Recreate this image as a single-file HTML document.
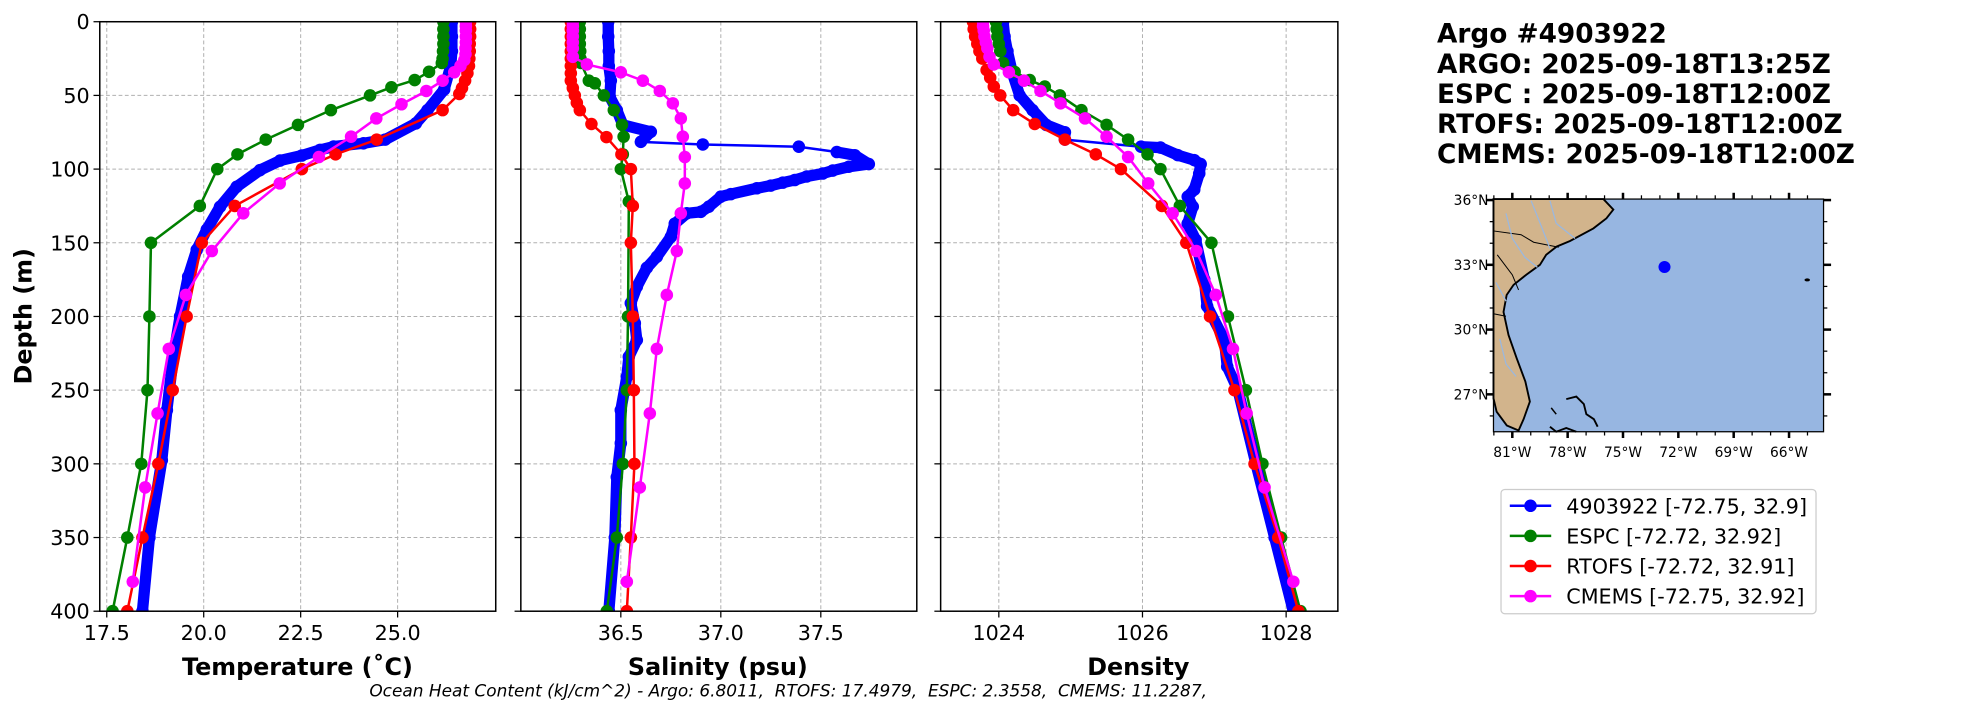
<!DOCTYPE html>
<html><head><meta charset="utf-8">
<style>
html,body{margin:0;padding:0;background:#fff;}
svg{display:block;font-family:"DejaVu Sans","Liberation Sans",sans-serif;}
</style></head>
<body>
<svg id="fig" width="1967" height="712" viewBox="0 0 1567.3 567.3" xmlns="http://www.w3.org/2000/svg">
<rect width="1567.3" height="567.3" fill="#fff"/>
<g id="panels"></g>
<g id="map"></g>
<g id="legend"></g>
<g font-weight="bold" font-size="21" fill="#000">
<text x="1145" y="34">Argo #4903922</text>
<text x="1145" y="58">ARGO: 2025-09-18T13:25Z</text>
<text x="1145" y="82">ESPC : 2025-09-18T12:00Z</text>
<text x="1145" y="106">RTOFS: 2025-09-18T12:00Z</text>
<text x="1145" y="130">CMEMS: 2025-09-18T12:00Z</text>
</g>
<text x="628" y="555" text-anchor="middle" font-size="13.5" font-style="italic" style="white-space:pre">Ocean Heat Content (kJ/cm^2) - Argo: 6.8011,  RTOFS: 17.4979,  ESPC: 2.3558,  CMEMS: 11.2287,</text>
</svg>
<script>
// ---------- data ----------
const depthTicks = [0,50,100,150,200,250,300,350,400];
const tempTicks = [17.5,20.0,22.5,25.0];
const tempTickLabels = ["17.5","20.0","22.5","25.0"];
const salTicks = [36.5,37.0,37.5];
const salTickLabels = ["36.5","37.0","37.5"];
const denTicks = [1024,1026,1028];
const denTickLabels = ["1024","1026","1028"];

const seriesNames = ["4903922 [-72.75, 32.9]","ESPC [-72.72, 32.92]","RTOFS [-72.72, 32.91]","CMEMS [-72.75, 32.92]"];

const argoTempDepth = [0,10,20,30,46,60,69,80,82.5,84.7,87,90.8,94.2,100.7,112,125.6,141,154.8,173,200,227,263.6,297.6,350,400];
const argoTemp =      [26.4,26.4,26.4,26.37,26.2,25.77,25.47,24.68,24.12,23.35,23.0,22.53,21.97,21.45,20.85,20.42,20.08,19.82,19.6,19.39,19.22,19.05,18.92,18.6,18.42];
const argoSalDepth = [0,10,20,30,40,51,60,70,74.7,81.5,83.3,84.8,88.4,90.6,96.6,98.4,101,103,105,107.4,109.2,111.2,113,117,118.7,125.5,129,130,137,146,159.5,167,179.8,191,204.6,216,227.4,241,263.6,286,309,350,400];
const argoSal = [36.437,36.437,36.44,36.44,36.45,36.445,36.48,36.51,36.65,36.6,36.91,37.39,37.58,37.67,37.74,37.64,37.56,37.51,37.43,37.37,37.31,37.25,37.18,37.05,37.0,36.94,36.9,36.83,36.77,36.75,36.68,36.63,36.58,36.55,36.57,36.58,36.54,36.53,36.5,36.5,36.48,36.47,36.44];
const argoDenDepth = [0,10,20,35,50,60,70,75,80,84.8,85.4,90.5,93.9,96.6,103,114,118.7,125.5,137,148,175,193,216,234,250,300,350,400];
const argoDen = [1024.06,1024.08,1024.12,1024.19,1024.29,1024.47,1024.66,1024.92,1024.92,1025.98,1026.25,1026.49,1026.72,1026.81,1026.79,1026.72,1026.63,1026.7,1026.63,1026.74,1026.86,1026.9,1027.14,1027.18,1027.33,1027.58,1027.84,1028.1];

const espcTempDepth = [0,5,10,15,20,25,28,34,39.6,44.5,50,60,70,80,90,100,125,150,200,250,300,350,400];
const espcTemp = [26.18,26.18,26.18,26.18,26.17,26.16,26.14,25.81,25.44,24.84,24.29,23.28,22.43,21.6,20.87,20.35,19.9,18.64,18.6,18.55,18.39,18.03,17.65];
const espcSalDepth = [0,5,10,15,20,25,28,40,41.8,50,60,70,78,90,100,122,200,250,300,350,400];
const espcSal = [36.295,36.295,36.295,36.295,36.297,36.298,36.3,36.34,36.37,36.415,36.465,36.506,36.514,36.51,36.5,36.54,36.536,36.53,36.51,36.48,36.43];
const espcDenDepth = [0,5,10,15,20,28,34,39.6,44,50,60,70,80,90,100,125,150,200,250,300,350,400];
const espcDen = [1023.96,1023.97,1023.98,1024.0,1024.02,1024.06,1024.22,1024.43,1024.64,1024.85,1025.15,1025.5,1025.8,1026.07,1026.25,1026.52,1026.96,1027.19,1027.44,1027.67,1027.93,1028.2];

const rtofsTempDepth = [0,5,10,15,20,25,30,35,40,45,49,60,80,90,100,125,150,200,250,300,350,400];
const rtofsTemp = [26.87,26.87,26.87,26.86,26.86,26.85,26.84,26.8,26.74,26.66,26.59,26.16,24.46,23.4,22.53,20.8,19.95,19.56,19.2,18.83,18.42,18.03];
const rtofsSalDepth = [0,5,10,15,20,25,30,35,40,45,50,55,60,69.4,78.3,90,100,125,150,200,250,300,350,400];
const rtofsSal = [36.25,36.25,36.25,36.25,36.25,36.25,36.25,36.25,36.25,36.26,36.27,36.28,36.295,36.353,36.428,36.503,36.55,36.56,36.55,36.56,36.565,36.568,36.55,36.53];
const rtofsDenDepth = [0,5,10,15,20,25,32.8,38,44,50,60,69.4,80,90,100,125,150,200,250,300,350,400];
const rtofsDen = [1023.64,1023.65,1023.67,1023.7,1023.73,1023.77,1023.83,1023.88,1023.93,1024.02,1024.2,1024.5,1024.92,1025.35,1025.7,1026.27,1026.61,1026.94,1027.28,1027.56,1027.89,1028.17];

const cmemsTempDepth = [0,3,6,10,14,18,22,26,30,34.3,40,47,56,65.6,78,91.8,109.7,130,155.6,185.4,222,265.8,316,380];
const cmemsTemp = [26.76,26.76,26.76,26.76,26.76,26.75,26.75,26.72,26.62,26.46,26.16,25.74,25.1,24.45,23.8,22.97,21.96,21.02,20.21,19.54,19.1,18.81,18.49,18.17];
const cmemsSalDepth = [0,3,6,10,14,18,23.8,29,34.3,40,47,55.4,65.6,78,91.8,109.7,130,155.6,185.4,222,265.8,316,380];
const cmemsSal = [36.26,36.26,36.26,36.26,36.26,36.26,36.26,36.33,36.5,36.61,36.695,36.76,36.8,36.81,36.82,36.82,36.8,36.78,36.73,36.68,36.645,36.595,36.53];
const cmemsDenDepth = [0,3,6,10,14,18,23.8,29,34.3,40,47,55.4,65.6,78,91.8,109.7,130,155.6,185.4,222,265.8,316,380];
const cmemsDen = [1023.78,1023.78,1023.79,1023.8,1023.82,1023.84,1023.87,1023.93,1024.14,1024.35,1024.58,1024.86,1025.2,1025.5,1025.8,1026.08,1026.42,1026.75,1027.02,1027.26,1027.45,1027.7,1028.1];

const colors = ["#0000ff","#008000","#ff0000","#ff00ff"];

// ---------- axes ----------
const NS = "http://www.w3.org/2000/svg";
function mk(tag, attrs, parent){
  const e = document.createElementNS(NS, tag);
  for (const k in attrs) e.setAttribute(k, attrs[k]);
  if (parent) parent.appendChild(e);
  return e;
}
const yTop = 17.3, yBot = 487;
function yScale(d){ return yTop + (d/400)*(yBot-yTop); }

const panelsG = document.getElementById('panels');
const panels = [
  {name:"temperature", x0:79.5, x1:395, v0:17.32, v1:27.53, ticks:tempTicks, labels:tempTickLabels, title:"Temperature (\u02daC)", tcx:237,
   series:[[argoTempDepth,argoTemp],[espcTempDepth,espcTemp],[rtofsTempDepth,rtofsTemp],[cmemsTempDepth,cmemsTemp]], ylabels:true},
  {name:"salinity", x0:415, x1:730.5, v0:36.0, v1:37.98, ticks:salTicks, labels:salTickLabels, title:"Salinity (psu)", tcx:572,
   series:[[argoSalDepth,argoSal],[espcSalDepth,espcSal],[rtofsSalDepth,rtofsSal],[cmemsSalDepth,cmemsSal]], ylabels:false},
  {name:"density", x0:749.5, x1:1066, v0:1023.19, v1:1028.72, ticks:denTicks, labels:denTickLabels, title:"Density", tcx:907,
   series:[[argoDenDepth,argoDen],[espcDenDepth,espcDen],[rtofsDenDepth,rtofsDen],[cmemsDenDepth,cmemsDen]], ylabels:false}
];

panels.forEach(p=>{
  const xs = v => p.x0 + (v-p.v0)/(p.v1-p.v0)*(p.x1-p.x0);
  const g = mk('g',{}, panelsG);
  
  
  depthTicks.forEach(d=>{
    const gl = mk('line',{x1:p.x0,x2:p.x1,y1:yScale(d),y2:yScale(d),stroke:"#b0b0b0","stroke-width":0.8,"stroke-dasharray":"3,2"},g);
    
    
  });
  p.ticks.forEach((t,i)=>{
    const x = xs(t);
    const gl = mk('line',{x1:x,x2:x,y1:yTop,y2:yBot,stroke:"#b0b0b0","stroke-width":0.8,"stroke-dasharray":"3,2"},g);
    
    
    const tk = mk('line',{x1:x,x2:x,y1:yBot,y2:yBot+5,stroke:"#000","stroke-width":1},g);
    
    
    const tl = mk('text',{x:x,y:yBot+23,"text-anchor":"middle","font-size":16.5},g);
    tl.textContent = p.labels[i];
    
    
  });
  depthTicks.forEach(d=>{
    const tk = mk('line',{x1:p.x0-5,x2:p.x0,y1:yScale(d),y2:yScale(d),stroke:"#000","stroke-width":1},g);
    
    
    if (p.ylabels){
      const tl = mk('text',{x:p.x0-8,y:yScale(d)+6,"text-anchor":"end","font-size":16.5},g);
      tl.textContent = String(d);
      
      
    }
  });
  const cid = 'clip-'+p.name;
  const cp = mk('clipPath',{id:cid},g);
  mk('rect',{x:p.x0,y:yTop,width:p.x1-p.x0,height:yBot-yTop},cp);
  const sg = mk('g',{"clip-path":"url(#"+cid+")"},g);
  p.series.forEach((s,si)=>{
    const [dep,val] = s;
    const pts = dep.map((d,i)=>[xs(val[i]), yScale(d)]);
    const lg = mk('g',{},sg);
    
    
    if (si===0){
      for (let i=1;i<pts.length;i++){
        const dx = pts[i][0]-pts[i-1][0], dy = pts[i][1]-pts[i-1][1];
        const far = Math.hypot(dx,dy) > 30 && Math.abs(dy) < 8;
        mk('line',{x1:pts[i-1][0],y1:pts[i-1][1],x2:pts[i][0],y2:pts[i][1],stroke:colors[0],"stroke-width":far?2:9,"stroke-linecap":"round"},lg);
      }
    } else {
      mk('polyline',{points:pts.map(q=>q.join(',')).join(' '),fill:"none",stroke:colors[si],"stroke-width":2},lg);
    }
    pts.forEach(q=>{
      const c = mk('circle',{cx:q[0],cy:q[1],r:5,fill:colors[si]},lg);
      
      
    });
  });
  const fr = mk('rect',{x:p.x0,y:yTop,width:p.x1-p.x0,height:yBot-yTop,fill:"none",stroke:"#000","stroke-width":1.2},g);
  
  
  const at = mk('text',{x:p.tcx,y:538,"text-anchor":"middle","font-size":19,"font-weight":"bold"},g);
  at.textContent = p.title;
  
  
});
const yt = mk('text',{x:0,y:0,"text-anchor":"middle","font-size":19,"font-weight":"bold",transform:"translate(25,252) rotate(-90)"},panelsG);
yt.textContent = "Depth (m)";



// ---------- map ----------
const mapLon = [-72.75];
const mapLat = [32.9];
const latTicks = [36,33,30,27];
const lonTicks = [-81,-78,-75,-72,-69,-66];
const mapG = document.getElementById('map');
const mx0=1190, mx1=1453, my0=158.6, my1=344;
function lonX(lon){ return 1205 + (lon+81)*14.7; }
function latY(lat){ return 211 - (lat-33)*17.2; }
mk('rect',{x:mx0,y:my0,width:mx1-mx0,height:my1-my0,fill:"#97b6e1"},mapG);
const land = mk('polygon',{points:"1190,158.6 1277.6,158.6 1285.5,167 1280,174 1269.6,182 1251,192 1240.3,196.5 1232,203 1227,211 1216,219 1206,227 1200.5,235 1198,248.6 1202,267 1208.5,285.5 1215.4,304 1219,320 1214,334 1210,343 1200.6,339 1192.5,328 1190,317.4",fill:"#d2b48c",stroke:"#000","stroke-width":1.5},mapG);


mk('polyline',{points:"1190,184 1212,187 1222,193 1242,197",fill:"none",stroke:"#000","stroke-width":0.8},mapG);
mk('polyline',{points:"1193,203 1205,219 1210,231",fill:"none",stroke:"#000","stroke-width":0.8},mapG);
mk('polyline',{points:"1190,250 1200,252",fill:"none",stroke:"#000","stroke-width":0.8},mapG);
mk('polyline',{points:"1200,170 1205,190 1215,205 1225,213",fill:"none",stroke:"#9ab8e0","stroke-width":1},mapG);
mk('polyline',{points:"1220,160 1228,180 1235,198",fill:"none",stroke:"#9ab8e0","stroke-width":1},mapG);
mk('polyline',{points:"1235,160 1240,178 1255,190",fill:"none",stroke:"#9ab8e0","stroke-width":1},mapG);
mk('polyline',{points:"1192,225 1200,240",fill:"none",stroke:"#9ab8e0","stroke-width":1},mapG);
mk('polyline',{points:"1195,270 1200,290 1208,300",fill:"none",stroke:"#9ab8e0","stroke-width":1},mapG);
mk('polyline',{points:"1248,318 1256,316 1262,322 1264,330 1270,334 1273,340",fill:"none",stroke:"#000","stroke-width":1.5},mapG);
mk('polyline',{points:"1236,325 1240,330",fill:"none",stroke:"#000","stroke-width":1.2},mapG);
mk('polyline',{points:"1235,340 1240,344 1248,341 1256,344",fill:"none",stroke:"#000","stroke-width":1.5},mapG);
mk('ellipse',{cx:1440,cy:223,rx:2.2,ry:1.2,fill:"#000"},mapG);
mk('rect',{x:mx0,y:my0,width:mx1-mx0,height:my1-my0,fill:"none",stroke:"#000","stroke-width":1},mapG);
latTicks.forEach(t=>{
  const y = latY(t);
  mk('line',{x1:mx0-6,x2:mx0,y1:y,y2:y,stroke:"#000","stroke-width":2},mapG);
  mk('line',{x1:mx1,x2:mx1+6,y1:y,y2:y,stroke:"#000","stroke-width":2},mapG);
  const tl = mk('text',{x:mx0-4,y:y+4,"text-anchor":"end","font-size":11},mapG);
  tl.textContent = t+"\u00b0N";
  
  
});
lonTicks.forEach(t=>{
  const x = lonX(t);
  mk('line',{x1:x,x2:x,y1:my0-5,y2:my0,stroke:"#000","stroke-width":2},mapG);
  mk('line',{x1:x,x2:x,y1:my1,y2:my1+5,stroke:"#000","stroke-width":2},mapG);
  const tl = mk('text',{x:x,y:my1+20,"text-anchor":"middle","font-size":11},mapG);
  tl.textContent = (-t)+"\u00b0W";
  
  
});
for (let lon=-82;lon<=-64;lon++){
  if (lon%3===0) continue;
  const x = lonX(lon);
  if (x<mx0||x>mx1) continue;
  mk('line',{x1:x,x2:x,y1:my0-3,y2:my0,stroke:"#000","stroke-width":1},mapG);
  mk('line',{x1:x,x2:x,y1:my1,y2:my1+3,stroke:"#000","stroke-width":1},mapG);
}
for (let lat=26;lat<=36;lat++){
  if (lat%3===0) continue;
  const y = latY(lat);
  if (y<my0||y>my1) continue;
  mk('line',{x1:mx0-3,x2:mx0,y1:y,y2:y,stroke:"#000","stroke-width":1},mapG);
  mk('line',{x1:mx1,x2:mx1+3,y1:y,y2:y,stroke:"#000","stroke-width":1},mapG);
}
mapLon.forEach((lon,i)=>{
  const c = mk('circle',{cx:lonX(lon),cy:latY(mapLat[i]),r:4.8,fill:"#0000ff"},mapG);
  
  
});

// ---------- legend ----------
const legG = document.getElementById('legend');
mk('rect',{x:1196,y:390,width:251,height:99,rx:3,fill:"#fff",stroke:"#cccccc","stroke-width":1},legG);
seriesNames.forEach((n,i)=>{
  const y = 403 + i*24;
  const eg = mk('g',{},legG);
  
  
  mk('line',{x1:1203,x2:1236,y1:y,y2:y,stroke:colors[i],"stroke-width":2},eg);
  mk('circle',{cx:1219.5,cy:y,r:5,fill:colors[i]},eg);
  const t = mk('text',{x:1248,y:y+6,"font-size":16.5},eg);
  t.textContent = n;
});
</script>
</body></html>
